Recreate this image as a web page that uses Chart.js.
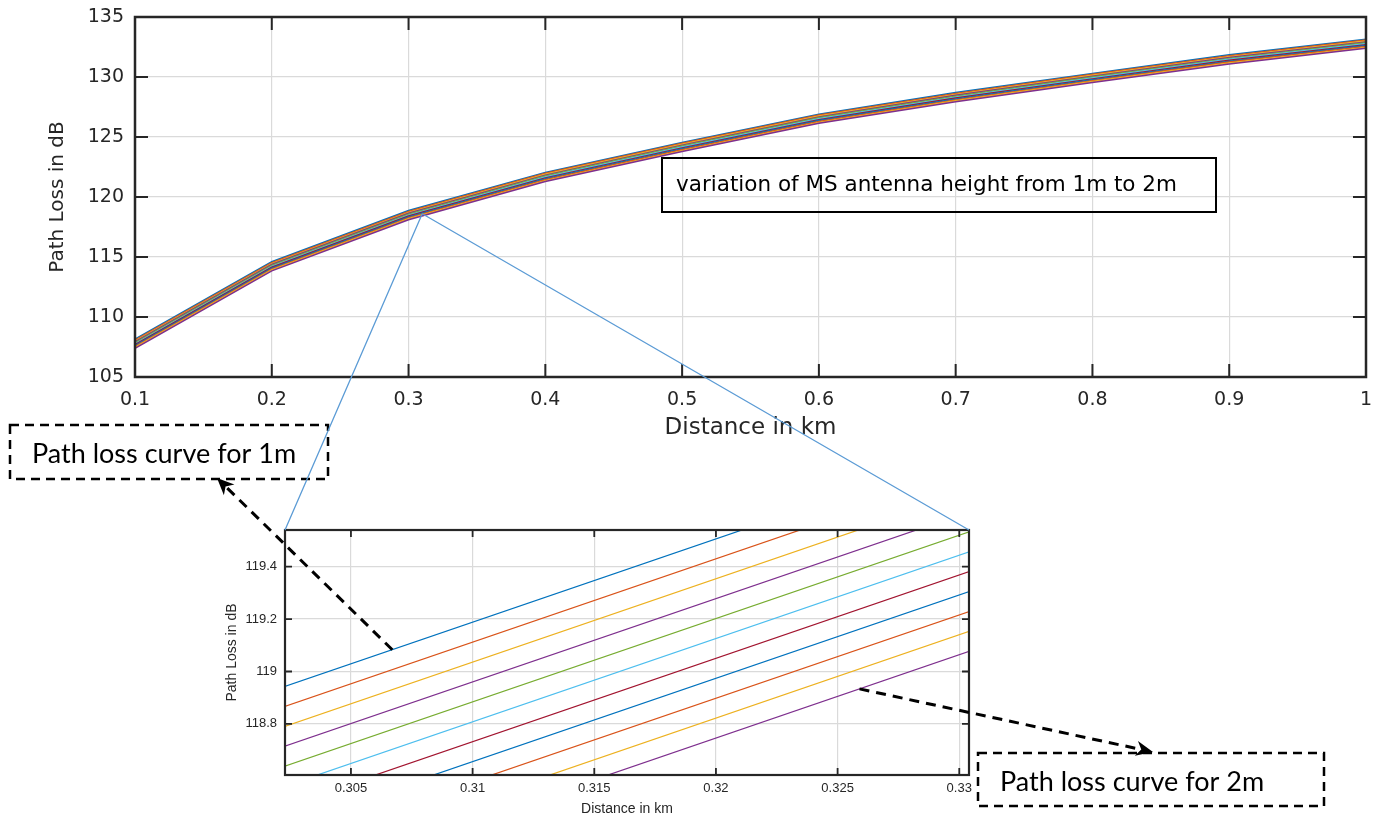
<!DOCTYPE html>
<html>
<head>
<meta charset="utf-8">
<script src="https://cdn.jsdelivr.net/npm/chart.js@4.4.1/dist/chart.umd.min.js"></script>
<style>
html,body{margin:0;padding:0;background:#fff;}
#wrap{position:relative;width:1377px;height:821px;overflow:hidden;background:#fff;}
#wrap canvas{position:absolute;}
</style>
</head>
<body>
<div id="wrap">
<canvas id="main" width="1377" height="445" style="left:0;top:0;width:1377px;height:445px"></canvas>
<canvas id="inset" width="790" height="301" style="left:200px;top:520px;width:790px;height:301px"></canvas>
<canvas id="overlay" width="1377" height="821" style="left:0;top:0;width:1377px;height:821px;pointer-events:none"></canvas>
</div>
<script>
// ---------------- data ----------------
const DISTANCE_KM = [0.1, 0.2, 0.3, 0.4, 0.5, 0.6, 0.7, 0.8, 0.9, 1.0];
const HEIGHT_LABELS = ['hm = 1.0 m','hm = 1.1 m','hm = 1.2 m','hm = 1.3 m','hm = 1.4 m','hm = 1.5 m','hm = 1.6 m','hm = 1.7 m','hm = 1.8 m','hm = 1.9 m','hm = 2.0 m'];

const PL_H10 = [108.150, 114.600, 118.870, 122.050, 124.550, 126.900, 128.700, 130.300, 131.850, 133.150];
const PL_H11 = [108.074, 114.524, 118.794, 121.974, 124.474, 126.824, 128.624, 130.224, 131.774, 133.074];
const PL_H12 = [107.998, 114.448, 118.718, 121.898, 124.398, 126.748, 128.548, 130.148, 131.698, 132.998];
const PL_H13 = [107.922, 114.372, 118.642, 121.822, 124.322, 126.672, 128.472, 130.072, 131.622, 132.922];
const PL_H14 = [107.846, 114.296, 118.566, 121.746, 124.246, 126.596, 128.396, 129.996, 131.546, 132.846];
const PL_H15 = [107.770, 114.220, 118.490, 121.670, 124.170, 126.520, 128.320, 129.920, 131.470, 132.770];
const PL_H16 = [107.694, 114.144, 118.414, 121.594, 124.094, 126.444, 128.244, 129.844, 131.394, 132.694];
const PL_H17 = [107.618, 114.068, 118.338, 121.518, 124.018, 126.368, 128.168, 129.768, 131.318, 132.618];
const PL_H18 = [107.542, 113.992, 118.262, 121.442, 123.942, 126.292, 128.092, 129.692, 131.242, 132.542];
const PL_H19 = [107.466, 113.916, 118.186, 121.366, 123.866, 126.216, 128.016, 129.616, 131.166, 132.466];
const PL_H20 = [107.390, 113.840, 118.110, 121.290, 123.790, 126.140, 127.940, 129.540, 131.090, 132.390];
const SERIES = [PL_H10, PL_H11, PL_H12, PL_H13, PL_H14, PL_H15, PL_H16, PL_H17, PL_H18, PL_H19, PL_H20];

const MAIN_X_TICKS  = [0.1, 0.2, 0.3, 0.4, 0.5, 0.6, 0.7, 0.8, 0.9, 1];
const MAIN_X_LABELS = ['0.1','0.2','0.3','0.4','0.5','0.6','0.7','0.8','0.9','1'];
const MAIN_Y_TICKS  = [105, 110, 115, 120, 125, 130, 135];
const MAIN_Y_LABELS = ['105','110','115','120','125','130','135'];

const INSET_X_RANGE  = [0.30229, 0.3304];
const INSET_Y_RANGE  = [118.605, 119.54];
const INSET_X_TICKS  = [0.305, 0.31, 0.315, 0.32, 0.325, 0.33];
const INSET_X_LABELS = ['0.305','0.31','0.315','0.32','0.325','0.33'];
const INSET_Y_TICKS  = [118.8, 119, 119.2, 119.4];
const INSET_Y_LABELS = ['118.8','119','119.2','119.4'];

const ZOOM_ORIGIN = {x: 0.31, y: 118.6};          // point on main chart that the inset magnifies
const ARROW_1M_AT = 0.3067;                         // distance on inset where the "1m" arrow starts (top curve)
const ARROW_2M_AT = 0.3259;                         // distance on inset where the "2m" arrow starts (bottom curve)

const TXT_MAIN_X = 'Distance in km';
const TXT_MAIN_Y = 'Path Loss in dB';
const TXT_NOTE   = 'variation of MS antenna height from 1m to 2m';
const TXT_1M     = 'Path loss curve for 1m';
const TXT_2M     = 'Path loss curve for 2m';

// ---------------- styles ----------------
const COLORS = ['#0072BD','#D95319','#EDB120','#7E2F8E','#77AC30','#4DBEEE','#A2142F','#0072BD','#D95319','#EDB120','#7E2F8E'];
const AXIS_COLOR = '#262626';
const GRID_COLOR = '#dadada';

function makeDatasets(width) {
  return SERIES.map((s, i) => ({
    label: HEIGHT_LABELS[i],
    data: DISTANCE_KM.map((d, j) => ({x: d, y: s[j]})),
    borderColor: COLORS[i],
    backgroundColor: COLORS[i],
    borderWidth: width,
    pointRadius: 0,
    tension: 0,
    fill: false,
    order: SERIES.length - i
  }));
}

const framePlugin = {
  id: 'matlabFrame',
  afterDatasetsDraw(chart, args, o) {
    const {ctx, chartArea: a, scales} = chart;
    ctx.save();
    ctx.strokeStyle = AXIS_COLOR;
    ctx.lineWidth = o.tickWidth;
    ctx.beginPath();
    scales.x.ticks.forEach(t => {
      const px = scales.x.getPixelForValue(t.value);
      ctx.moveTo(px, a.bottom); ctx.lineTo(px, a.bottom - o.tickLen);
      ctx.moveTo(px, a.top);    ctx.lineTo(px, a.top + o.tickLen);
    });
    scales.y.ticks.forEach(t => {
      const py = scales.y.getPixelForValue(t.value);
      ctx.moveTo(a.left, py);  ctx.lineTo(a.left + o.tickLen, py);
      ctx.moveTo(a.right, py); ctx.lineTo(a.right - o.tickLen, py);
    });
    ctx.stroke();
    ctx.lineWidth = o.frameWidth;
    ctx.strokeRect(a.left, a.top, a.right - a.left, a.bottom - a.top);
    ctx.restore();
  }
};

const notePlugin = {
  id: 'noteBox',
  afterDraw(chart, args, o) {
    if (!o.text) return;
    const ctx = chart.ctx;
    ctx.save();
    ctx.strokeStyle = '#000';
    ctx.lineWidth = 2;
    ctx.strokeRect(o.left, o.top, o.width, o.height);
    ctx.fillStyle = '#000';
    ctx.font = o.font;
    ctx.textBaseline = 'alphabetic';
    ctx.fillText(o.text, o.textX, o.textY);
    ctx.restore();
  }
};

// fixed-size axis boxes without automatic label overhang padding
function fixX(h) { return s => { s.height = h; s.paddingLeft = 0; s.paddingRight = 0; }; }
function fixY(w) { return s => { s.width = w; s.paddingTop = 0; s.paddingBottom = 0; }; }

Chart.defaults.color = AXIS_COLOR;

// ---------------- main chart ----------------
const mainChart = new Chart(document.getElementById('main'), {
  type: 'line',
  data: {datasets: makeDatasets(1.5)},
  options: {
    responsive: false, animation: false, devicePixelRatio: 1,
    layout: {padding: {top: 17, right: 11, left: 0, bottom: 0}},
    plugins: {
      legend: {display: false}, tooltip: {enabled: false},
      matlabFrame: {tickLen: 13, tickWidth: 2, frameWidth: 2.5},
      noteBox: {text: TXT_NOTE, left: 662, top: 158, width: 554, height: 54,
                textX: 676, textY: 191, font: '21.5px "DejaVu Sans", sans-serif'}
    },
    scales: {
      x: {
        type: 'linear', min: MAIN_X_TICKS[0], max: MAIN_X_TICKS[MAIN_X_TICKS.length - 1],
        afterBuildTicks: s => { s.ticks = MAIN_X_TICKS.map(v => ({value: v})); },
        afterFit: fixX(68),
        ticks: {callback: (v, i) => MAIN_X_LABELS[i], autoSkip: false, maxRotation: 0,
                font: {family: '"DejaVu Sans", sans-serif', size: 19}, color: AXIS_COLOR, padding: 12},
        grid: {color: GRID_COLOR, lineWidth: 1.2, drawTicks: false},
        border: {display: false},
        title: {display: true, text: TXT_MAIN_X, color: AXIS_COLOR,
                font: {family: '"DejaVu Sans", sans-serif', size: 23}, padding: {top: 0, bottom: 3}}
      },
      y: {
        type: 'linear', min: MAIN_Y_TICKS[0], max: MAIN_Y_TICKS[MAIN_Y_TICKS.length - 1],
        afterBuildTicks: s => { s.ticks = MAIN_Y_TICKS.map(v => ({value: v})); },
        afterFit: fixY(135),
        ticks: {callback: (v, i) => MAIN_Y_LABELS[i], autoSkip: false,
                font: {family: '"DejaVu Sans", sans-serif', size: 19}, color: AXIS_COLOR, padding: 11},
        grid: {color: GRID_COLOR, lineWidth: 1.2, drawTicks: false},
        border: {display: false},
        title: {display: true, text: TXT_MAIN_Y, color: AXIS_COLOR,
                font: {family: '"DejaVu Sans", sans-serif', size: 20}, padding: {top: 46, bottom: 0}}
      }
    }
  },
  plugins: [framePlugin, notePlugin]
});

// ---------------- inset (zoomed) chart ----------------
const INSET_POS = {left: 200, top: 520};
const insetChart = new Chart(document.getElementById('inset'), {
  type: 'line',
  data: {datasets: makeDatasets(1.2)},
  options: {
    responsive: false, animation: false, devicePixelRatio: 1,
    layout: {padding: {top: 10, right: 21, left: 0, bottom: 0}},
    plugins: {
      legend: {display: false}, tooltip: {enabled: false},
      matlabFrame: {tickLen: 7, tickWidth: 1.8, frameWidth: 2.2},
      noteBox: {text: ''}
    },
    scales: {
      x: {
        type: 'linear', min: INSET_X_RANGE[0], max: INSET_X_RANGE[1],
        afterBuildTicks: s => { s.ticks = INSET_X_TICKS.map(v => ({value: v})); },
        afterFit: fixX(46),
        ticks: {callback: (v, i) => INSET_X_LABELS[i], autoSkip: false, maxRotation: 0,
                font: {family: '"Liberation Sans", Arial, sans-serif', size: 13}, color: AXIS_COLOR, padding: 6},
        grid: {color: GRID_COLOR, lineWidth: 1.2, drawTicks: false},
        border: {display: false},
        title: {display: true, text: TXT_MAIN_X, color: AXIS_COLOR,
                font: {family: '"Liberation Sans", Arial, sans-serif', size: 14}, padding: {top: 0, bottom: 3}}
      },
      y: {
        type: 'linear', min: INSET_Y_RANGE[0], max: INSET_Y_RANGE[1],
        afterBuildTicks: s => { s.ticks = INSET_Y_TICKS.map(v => ({value: v})); },
        afterFit: fixY(85),
        ticks: {callback: (v, i) => INSET_Y_LABELS[i], autoSkip: false,
                font: {family: '"Liberation Sans", Arial, sans-serif', size: 13}, color: AXIS_COLOR, padding: 8},
        grid: {color: GRID_COLOR, lineWidth: 1.2, drawTicks: false},
        border: {display: false},
        title: {display: true, text: TXT_MAIN_Y, color: AXIS_COLOR,
                font: {family: '"Liberation Sans", Arial, sans-serif', size: 14}, padding: {top: 24, bottom: 0}}
      }
    }
  },
  plugins: [framePlugin, notePlugin]
});

// ---------------- overlay: connectors, callout boxes, arrows ----------------
function valueAt(series, d) {
  for (let j = 0; j < DISTANCE_KM.length - 1; j++) {
    const a = DISTANCE_KM[j], b = DISTANCE_KM[j + 1];
    if (d >= a && d <= b) return series[j] + (series[j + 1] - series[j]) * (d - a) / (b - a);
  }
  return series[series.length - 1];
}

function dashedArrow(ctx, from, tip) {
  const ang = Math.atan2(tip.y - from.y, tip.x - from.x);
  const headLen = 17, headHalf = 7.5;
  const base = {x: tip.x - headLen * Math.cos(ang), y: tip.y - headLen * Math.sin(ang)};
  ctx.save();
  ctx.strokeStyle = '#000';
  ctx.lineWidth = 3;
  ctx.setLineDash([10, 7]);
  ctx.beginPath();
  ctx.moveTo(from.x, from.y);
  ctx.lineTo(base.x + 4 * Math.cos(ang), base.y + 4 * Math.sin(ang));
  ctx.stroke();
  ctx.setLineDash([]);
  ctx.fillStyle = '#000';
  ctx.beginPath();
  ctx.moveTo(tip.x, tip.y);
  ctx.lineTo(base.x - headHalf * Math.sin(ang), base.y + headHalf * Math.cos(ang));
  ctx.lineTo(base.x + 5 * Math.cos(ang), base.y + 5 * Math.sin(ang));
  ctx.lineTo(base.x + headHalf * Math.sin(ang), base.y - headHalf * Math.cos(ang));
  ctx.closePath();
  ctx.fill();
  ctx.restore();
}

function dashedBox(ctx, x, y, w, h, text, tx, ty) {
  ctx.save();
  ctx.strokeStyle = '#000';
  ctx.lineWidth = 2.5;
  ctx.setLineDash([9, 6]);
  ctx.strokeRect(x, y, w, h);
  ctx.setLineDash([]);
  ctx.fillStyle = '#000';
  ctx.font = '27px Lato, "Noto Sans", sans-serif';
  ctx.textBaseline = 'alphabetic';
  ctx.fillText(text, tx, ty);
  ctx.restore();
}

function drawOverlay() {
  const ctx = document.getElementById('overlay').getContext('2d');
  ctx.clearRect(0, 0, 1377, 821);
  const ia = insetChart.chartArea;
  const insetTL = {x: INSET_POS.left + ia.left,  y: INSET_POS.top + ia.top};
  const insetTR = {x: INSET_POS.left + ia.right, y: INSET_POS.top + ia.top};
  const origin = {x: mainChart.scales.x.getPixelForValue(ZOOM_ORIGIN.x),
                  y: mainChart.scales.y.getPixelForValue(ZOOM_ORIGIN.y)};

  // callout boxes
  dashedBox(ctx, 10, 425, 318, 54, TXT_1M, 32, 463);
  dashedBox(ctx, 978, 753, 346, 53, TXT_2M, 1000, 791);

  // zoom connector lines
  ctx.save();
  ctx.strokeStyle = '#5B9BD5';
  ctx.lineWidth = 1.3;
  ctx.beginPath();
  ctx.moveTo(origin.x, origin.y); ctx.lineTo(insetTL.x, insetTL.y);
  ctx.moveTo(origin.x, origin.y); ctx.lineTo(insetTR.x, insetTR.y);
  ctx.stroke();
  ctx.restore();

  // arrows from the inset curves to the callouts
  const sx = insetChart.scales.x, sy = insetChart.scales.y;
  const from1 = {x: INSET_POS.left + sx.getPixelForValue(ARROW_1M_AT),
                 y: INSET_POS.top + sy.getPixelForValue(valueAt(SERIES[0], ARROW_1M_AT))};
  const from2 = {x: INSET_POS.left + sx.getPixelForValue(ARROW_2M_AT),
                 y: INSET_POS.top + sy.getPixelForValue(valueAt(SERIES[SERIES.length - 1], ARROW_2M_AT))};
  dashedArrow(ctx, from1, {x: 217, y: 478});
  dashedArrow(ctx, from2, {x: 1153, y: 752});
}
drawOverlay();
if (document.fonts && document.fonts.ready) {
  document.fonts.ready.then(() => { mainChart.update(); insetChart.update(); drawOverlay(); });
}
</script>
</body>
</html>
